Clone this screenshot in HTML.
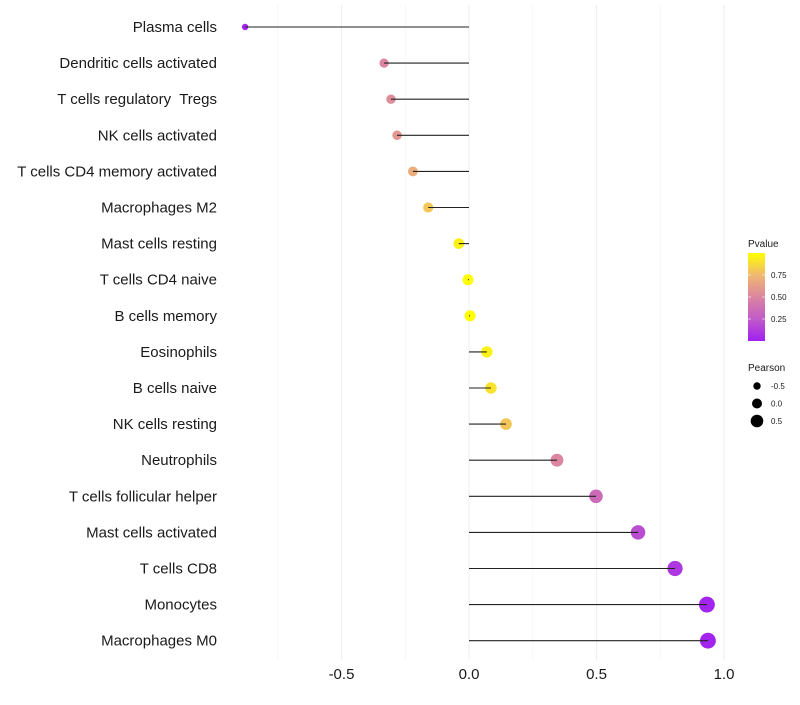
<!DOCTYPE html>
<html><head><meta charset="utf-8"><style>
body{margin:0;background:#fff;font-family:"Liberation Sans",sans-serif;}
text{white-space:pre;}
</style></head><body>
<svg id="chart" width="800" height="700" xmlns="http://www.w3.org/2000/svg" font-family="Liberation Sans, sans-serif"></svg>
<script>
const categories=["Plasma cells","Dendritic cells activated","T cells regulatory  Tregs","NK cells activated","T cells CD4 memory activated","Macrophages M2","Mast cells resting","T cells CD4 naive","B cells memory","Eosinophils","B cells naive","NK cells resting","Neutrophils","T cells follicular helper","Mast cells activated","T cells CD8","Monocytes","Macrophages M0"];
const pearson=[-0.878,-0.333,-0.306,-0.282,-0.22,-0.16,-0.04,-0.004,0.004,0.07,0.086,0.145,0.345,0.498,0.663,0.808,0.933,0.937];
const pvalue=[0.02,0.5,0.53,0.58,0.7,0.8,0.95,1.0,1.0,0.95,0.9,0.8,0.5,0.35,0.2,0.1,0.02,0.02];
const xTicks=[-0.5,0,0.5,1];
const xTickLabels=["-0.5","0.0","0.5","1.0"];
const xMinor=[-0.75,-0.25,0.25,0.75];
const legendP=[0.75,0.5,0.25];
const legendPLabels=["0.75","0.50","0.25"];
const legendSize=[-0.5,0,0.5];
const legendSizeLabels=["-0.5","0.0","0.5"];

const svg=document.getElementById('chart');
const NS="http://www.w3.org/2000/svg";
const x=v=>469+255*v;
const y=i=>27+i*36.1;
const r=v=>Math.max(1.8,5.5+2.6*v);
const stops=[[0,[160,32,240]],[0.25,[193,90,200]],[0.5,[219,133,160]],[0.75,[240,184,112]],[1,[255,255,0]]];
function col(p){for(let k=1;k<stops.length;k++){if(p<=stops[k][0]){const a=stops[k-1],b=stops[k];const t=(p-a[0])/(b[0]-a[0]);const c=a[1].map((v,j)=>Math.round(v+(b[1][j]-v)*t));return `rgb(${c})`;}}return 'rgb(255,255,0)';}
function el(tag,attrs,parent){const e=document.createElementNS(NS,tag);for(const k in attrs)e.setAttribute(k,attrs[k]);(parent||svg).appendChild(e);return e;}

xMinor.forEach(v=>{const l=el('line',{x1:x(v),x2:x(v),y1:5,y2:660,stroke:'#f5f5f5','stroke-width':0.8});

});
xTicks.forEach((v,i)=>{const l=el('line',{x1:x(v),x2:x(v),y1:5,y2:660,stroke:'#efefef','stroke-width':1.1});


const t=el('text',{x:x(v),y:679,'text-anchor':'middle','font-size':15,fill:'#1a1a1a'});t.textContent=xTickLabels[i];

});

categories.forEach((c,i)=>{
const t=el('text',{x:217,y:y(i)+5,'text-anchor':'end','font-size':15,fill:'#1a1a1a'});t.textContent=c;


const d=el('circle',{cx:x(pearson[i]),cy:y(i),r:r(pearson[i]),fill:col(pvalue[i])});


const l=el('line',{x1:x(0),x2:x(pearson[i]),y1:y(i),y2:y(i),stroke:'#222','stroke-width':1.1});


});

const lt=el('text',{x:748,y:247,'font-size':10,fill:'#1a1a1a'});lt.textContent='Pvalue';


const defs=el('defs',{});const g=el('linearGradient',{id:'pg',x1:0,y1:1,x2:0,y2:0},defs);
stops.forEach(s=>el('stop',{offset:s[0],'stop-color':`rgb(${s[1]})`},g));
const bar=el('rect',{x:748,y:253,width:17,height:88,fill:'url(#pg)'});


const py=p=>341-88*p;
legendP.forEach((p,i)=>{el('line',{x1:748,x2:751,y1:py(p),y2:py(p),stroke:'#fff','stroke-width':0.6});el('line',{x1:762,x2:765,y1:py(p),y2:py(p),stroke:'#fff','stroke-width':0.6});
const t=el('text',{x:771,y:py(p)+3,'font-size':8,fill:'#1a1a1a'});t.textContent=legendPLabels[i];

});
const st=el('text',{x:748,y:371,'font-size':10,fill:'#1a1a1a'});st.textContent='Pearson';


legendSize.forEach((v,i)=>{const cy=386+i*17.5;const c=el('circle',{cx:757,cy:cy,r:r(v)-0.5,fill:'#000'});


const t=el('text',{x:771,y:cy+3,'font-size':8,fill:'#1a1a1a'});t.textContent=legendSizeLabels[i];

});
</script>
</body></html>
